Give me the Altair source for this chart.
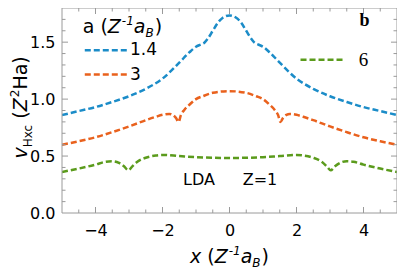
import altair as alt
import pandas as pd

# ---------------- data ----------------
SERIES = ["1.4", "3", "6"]
COLORS = ["#1b8cc8", "#e9611d", "#5b9b1c"]

X_BLUE = [-5, -4.5, -4, -3.5, -3, -2.5, -2, -1.5, -1.2, -1.0, -0.85, -0.75, -0.65, -0.5, -0.35, -0.2, 0,
          0.2, 0.35, 0.5, 0.65, 0.75, 0.85, 1.0, 1.2, 1.5, 2, 2.5, 3, 3.5, 4, 4.5, 5]
Y_BLUE = [0.86, 0.895, 0.93, 0.975, 1.025, 1.09, 1.18, 1.32, 1.41, 1.46, 1.48, 1.495, 1.53, 1.60, 1.67, 1.715, 1.735,
          1.715, 1.67, 1.60, 1.53, 1.495, 1.48, 1.46, 1.41, 1.32, 1.18, 1.09, 1.025, 0.975, 0.93, 0.895, 0.86]

X_ORANGE = [-5, -4.5, -4, -3.5, -3, -2.5, -2.2, -2, -1.8, -1.7, -1.6, -1.52, -1.45, -1.35, -1.2, -1.0, -0.8, -0.5, 0,
            0.5, 0.8, 1.0, 1.2, 1.35, 1.45, 1.52, 1.6, 1.7, 1.8, 2, 2.2, 2.5, 3, 3.5, 4, 4.5, 5]
Y_ORANGE = [0.60, 0.63, 0.665, 0.71, 0.76, 0.815, 0.845, 0.862, 0.87, 0.862, 0.835, 0.80, 0.86, 0.905, 0.95, 1.0, 1.025, 1.055, 1.07,
            1.055, 1.025, 1.0, 0.95, 0.905, 0.86, 0.80, 0.835, 0.862, 0.87, 0.862, 0.845, 0.815, 0.76, 0.71, 0.665, 0.63, 0.60]

X_GREEN = [-5, -4.5, -4, -3.7, -3.5, -3.3, -3.15, -3.02, -2.9, -2.75, -2.5, -2.2, -2.0, -1.5, -1.0, -0.5, 0,
           0.5, 1.0, 1.5, 2.0, 2.2, 2.5, 2.75, 2.9, 3.02, 3.15, 3.3, 3.5, 3.7, 4, 4.5, 5]
Y_GREEN = [0.36, 0.39, 0.425, 0.45, 0.455, 0.44, 0.41, 0.375, 0.41, 0.45, 0.485, 0.505, 0.51, 0.50, 0.49, 0.485, 0.483,
           0.485, 0.49, 0.50, 0.51, 0.505, 0.485, 0.45, 0.41, 0.375, 0.41, 0.44, 0.455, 0.45, 0.425, 0.39, 0.36]

X_TICK_LABELS = [-4, -2, 0, 2, 4]
X_MINOR = [-4.5, -3.5, -3, -2.5, -1.5, -1, -0.5, 0.5, 1, 1.5, 2.5, 3, 3.5, 4.5]
Y_TICK_LABELS = [0.0, 0.5, 1.0, 1.5]
Y_MINOR = [0.1, 0.2, 0.3, 0.4, 0.6, 0.7, 0.8, 0.9, 1.1, 1.2, 1.3, 1.4, 1.6, 1.7]

# legend keys (data coordinates)
LEG_X0 = [-4.32, -4.32, 2.12]
LEG_X1 = [-3.06, -3.06, 3.38]
LEG_Y = [1.43, 1.216, 1.345]

# ---------------- layout ----------------
W, H = 335, 205
XDOM, YDOM = [-5, 5], [0, 1.8]
FONT = "DejaVu Sans"
SERIF = "Liberation Serif"
FRAME = "#9a9a9a"

xs = alt.Scale(domain=XDOM, nice=False, zero=False)
ys = alt.Scale(domain=YDOM, nice=False, zero=False)
AX = alt.Axis(values=X_TICK_LABELS, title=None, ticks=False, domain=False, grid=False,
              labelFont=FONT, labelFontSize=16, labelColor="black", labelPadding=9, labelFlush=False)
AY = alt.Axis(values=Y_TICK_LABELS, format=".1f", title=None, ticks=False, domain=False,
              grid=False, labelFont=FONT, labelFontSize=16, labelColor="black",
              labelPadding=7, labelFlush=False)
ONE = pd.DataFrame({"k": [0]})

W_EM = {' ': 0.318, '(': 0.390, ')': 0.390, 'x': 0.592, 'Z': 0.685, 'a': 0.613, 'B': 0.686,
        '-': 0.361, '1': 0.636, '2': 0.636, 'v': 0.592, 'H': 0.752, 'c': 0.550}


def tw(s, size):
    return sum(W_EM[c] for c in s) * size


rows = []
for name, xv, yv in [("1.4", X_BLUE, Y_BLUE), ("3", X_ORANGE, Y_ORANGE), ("6", X_GREEN, Y_GREEN)]:
    for a, b in zip(xv, yv):
        rows.append({"a": name, "x": a, "y": b})
df = pd.DataFrame(rows)

color = alt.Color("a:N", scale=alt.Scale(domain=SERIES, range=COLORS), legend=None)

lines = alt.Chart(df).mark_line(strokeDash=[6, 3], strokeWidth=2.5, interpolate="monotone", clip=True).encode(
    x=alt.X("x:Q", scale=xs, axis=AX),
    y=alt.Y("y:Q", scale=ys, axis=AY),
    color=color,
)

# frame
frame = [
    alt.Chart(ONE).mark_rule(color=FRAME, strokeWidth=1).encode(x=alt.value(0), y=alt.value(0), y2=alt.value(H)),
    alt.Chart(ONE).mark_rule(color=FRAME, strokeWidth=1).encode(x=alt.value(W), y=alt.value(0), y2=alt.value(H)),
    alt.Chart(ONE).mark_rule(color=FRAME, strokeWidth=1).encode(y=alt.value(0), x=alt.value(0), x2=alt.value(W)),
    alt.Chart(ONE).mark_rule(color=FRAME, strokeWidth=1).encode(y=alt.value(H), x=alt.value(0), x2=alt.value(W)),
]


# frame ticks (inward)
def xticks(vals, length):
    d = pd.DataFrame({"v": vals})
    bot = alt.Chart(d).mark_rule(color=FRAME, strokeWidth=1).encode(
        x=alt.X("v:Q", scale=xs, axis=AX), y=alt.value(H), y2=alt.value(H - length))
    top = alt.Chart(d).mark_rule(color=FRAME, strokeWidth=1).encode(
        x=alt.X("v:Q", scale=xs, axis=AX), y=alt.value(0), y2=alt.value(length))
    return [bot, top]


def yticks(vals, length):
    d = pd.DataFrame({"v": vals})
    left = alt.Chart(d).mark_rule(color=FRAME, strokeWidth=1).encode(
        y=alt.Y("v:Q", scale=ys, axis=AY), x=alt.value(0), x2=alt.value(length))
    right = alt.Chart(d).mark_rule(color=FRAME, strokeWidth=1).encode(
        y=alt.Y("v:Q", scale=ys, axis=AY), x=alt.value(W), x2=alt.value(W - length))
    return [left, right]


tick_layers = xticks(X_TICK_LABELS, 6) + xticks(X_MINOR, 3.5) + yticks([0.5, 1.0, 1.5], 6) + yticks(Y_MINOR, 3.5)

# legend keys
leg_df = pd.DataFrame({"a": SERIES, "x0": LEG_X0, "x1": LEG_X1, "y": LEG_Y})
leg_lines = alt.Chart(leg_df).mark_rule(strokeDash=[6, 3], strokeWidth=2.5).encode(
    x=alt.X("x0:Q", scale=xs, axis=AX), x2="x1:Q", y=alt.Y("y:Q", scale=ys, axis=AY), color=color)


def piece_text(s, size, italic=False, bold=False, font=FONT, align="left", baseline="alphabetic",
               angle=None, dx=0, dy=0):
    kw = dict(text=s, font=font, fontSize=size, align=align, baseline=baseline, color="black")
    if italic:
        kw["fontStyle"] = "italic"
    if bold:
        kw["fontWeight"] = "bold"
    if angle is not None:
        kw["angle"] = angle
    if dx:
        kw["dx"] = dx
    if dy:
        kw["dy"] = dy
    return kw


def at_data(x, y, **kw):
    return alt.Chart(ONE).mark_text(**piece_text(**kw)).encode(
        x=alt.XDatum(x, type="quantitative", scale=xs, axis=AX),
        y=alt.YDatum(y, type="quantitative", scale=ys, axis=AY))


def at_px(px, py, **kw):
    return alt.Chart(ONE).mark_text(**piece_text(**kw)).encode(x=alt.value(px), y=alt.value(py))


def layout(pieces):
    out, off = [], 0
    for s, size, it, shift, gap in pieces:
        off += gap
        out.append((s, size, it, shift, off))
        off += tw(s, size)
    return out, off


texts = []
# legend title "a (Z^-1 a_B)"
LT = [("a", 19, False, 0, 0), ("(", 19, False, 0, 6), ("Z", 19, True, 0, 0), ("-1", 12, True, -8, 1),
      ("a", 19, True, 0, 0), ("B", 12, True, 4, 0), (")", 19, False, 0, 1)]
pl, _ = layout(LT)
for s, size, it, shift, off in pl:
    texts.append(at_data(-4.38, 1.578, s=s, size=size, italic=it, dx=off, dy=shift))

# legend labels and annotations
texts.append(at_data(-2.97, 1.43, s="1.4", size=17, baseline="middle"))
texts.append(at_data(-2.97, 1.216, s="3", size=17, baseline="middle"))
texts.append(at_data(4.0, 1.345, s="6", size=19, font=SERIF, align="center", baseline="middle"))
texts.append(at_data(4.03, 1.69, s="b", size=18, font=SERIF, bold=True, align="center", baseline="middle"))
texts.append(at_data(-0.91, 0.293, s="LDA", size=16, align="center", baseline="middle"))
texts.append(at_data(0.91, 0.293, s="Z=1", size=16, align="center", baseline="middle"))

# x axis title "x (Z^-1 a_B)"
XT = [("x", 19, True, 0, 0), ("(", 19, False, 0, 6), ("Z", 19, True, 0, 0), ("-1", 12, True, -8, 1),
      ("a", 19, True, 0, 0), ("B", 12, True, 4, 0), (")", 19, False, 0, 1)]
pl, total = layout(XT)
x0 = W / 2 - total / 2
for s, size, it, shift, off in pl:
    texts.append(at_px(x0 + off, H + 50 + shift, s=s, size=size, italic=it))

# y axis title "v_Hxc (Z^2 Ha)" rotated
YT = [("v", 19, True, 0, 0), ("Hxc", 12, False, 5, 0), ("(", 19, False, 0, 6), ("Z", 19, True, 0, 0),
      ("2", 12, False, -8, 1), ("Ha)", 19, False, 0, 0)]
pl, total = layout(YT)
ycenter = H * (1 - 0.927 / 1.8)
start = ycenter + total / 2
for s, size, it, shift, off in pl:
    texts.append(at_px(-35.5 + shift, start - off, s=s, size=size, italic=it, angle=270))

chart = alt.layer(lines, *frame, *tick_layers, leg_lines, *texts).properties(
    width=W, height=H,
    padding={"left": 54, "top": 0, "right": 0, "bottom": 60},
    autosize=alt.AutoSizeParams(type="none"),
).configure_view(stroke=None)

chart.save("out.html", embed_options={"renderer": "svg", "actions": False})
